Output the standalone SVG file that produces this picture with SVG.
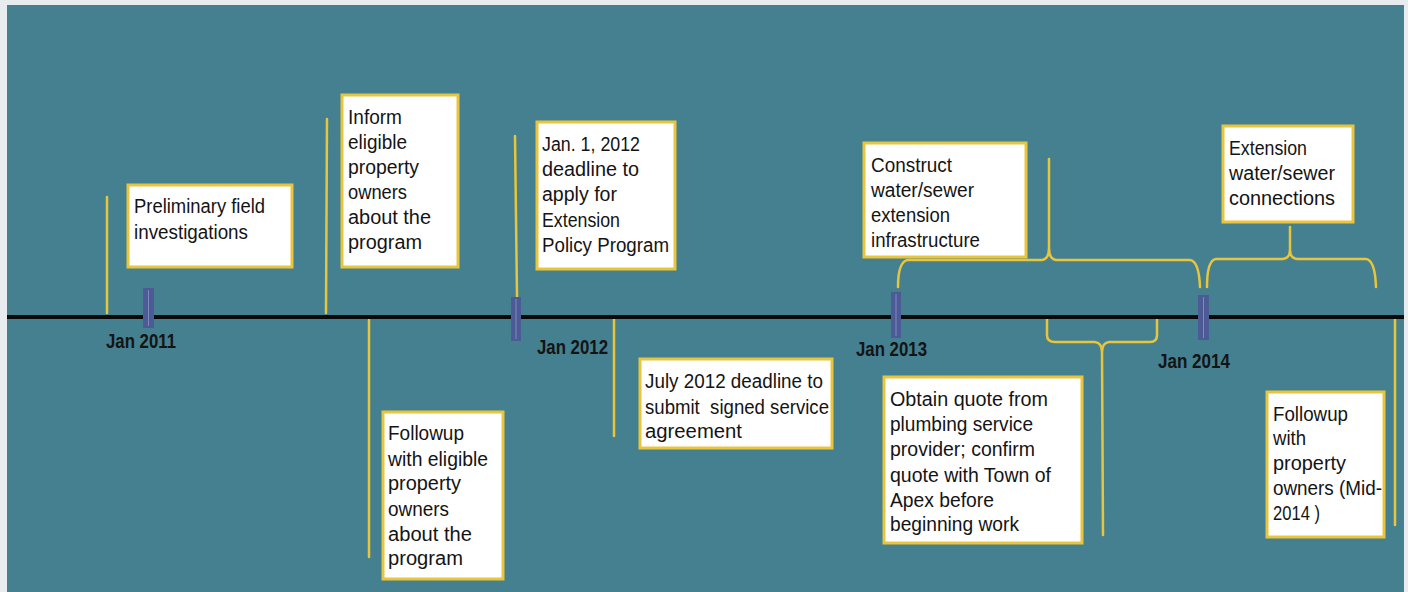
<svg xmlns="http://www.w3.org/2000/svg" width="1408" height="592" viewBox="0 0 1408 592">
<style>
.box{fill:#ffffff;stroke:#e8c53c;stroke-width:3}
.ln{stroke:#e8c53c;stroke-width:2.5;fill:none;stroke-linecap:round;stroke-linejoin:round}
.t{font-family:"Liberation Sans",Arial,sans-serif;font-size:20px;fill:#141414}
.yr{font-family:"Liberation Sans",Arial,sans-serif;font-size:21px;font-weight:bold;fill:#141414}
.mk{fill:#4c5b96}
.mks{stroke:#7b8ab8;stroke-width:1}
</style>
<rect x="0" y="0" width="1408" height="592" fill="#e8ecee"/>
<rect x="7" y="5" width="1397" height="587" fill="#44808f"/>

<g id="connectors">
<line class="ln" x1="107" y1="197" x2="107" y2="313"/>
<line class="ln" x1="327" y1="119" x2="326" y2="313"/>
<line class="ln" x1="369" y1="320" x2="369" y2="557"/>
<line class="ln" x1="515" y1="136" x2="517" y2="297"/>
<line class="ln" x1="614" y1="319" x2="614" y2="436"/>
<line class="ln" x1="1395" y1="318" x2="1395" y2="525"/>
<path class="ln" d="M898,287 Q898,261 908,260 L1042,260 Q1049,259 1049,248 L1049,159 M1049,248 Q1049,259 1056,260 L1190,260 Q1199,261 1200,287"/>
<path class="ln" d="M1207,287 Q1207,260 1216,259 L1283,259 Q1290,258 1290,250 L1290,227 M1290,250 Q1290,258 1297,259 L1366,259 Q1375,260 1376,287"/>
<path class="ln" d="M1047,317 L1047,335 Q1047,342 1055,342 L1095,342 Q1102,343 1102,352 L1103,535 M1102,352 Q1102,343 1109,342 L1150,342 Q1157,342 1157,335 L1157,317"/>
</g>

<g id="timeline">
<line x1="7" y1="317" x2="1404" y2="317" stroke="#0a0a0a" stroke-width="4"/>
</g>

<g id="m2011"><rect class="mk" x="143" y="288" width="11" height="40"/><line class="mks" x1="148.5" y1="290" x2="148.5" y2="326"/></g>
<g id="m2012"><rect class="mk" x="511" y="297" width="10" height="44"/><line class="mks" x1="516" y1="299" x2="516" y2="339"/></g>
<g id="m2013"><rect class="mk" x="891" y="292" width="10" height="46"/><line class="mks" x1="896" y1="294" x2="896" y2="336"/></g>
<g id="m2014"><rect class="mk" x="1198" y="295" width="11" height="45"/><line class="mks" x1="1203.5" y1="297" x2="1203.5" y2="338"/></g>

<g id="labels">
<text class="yr" x="106" y="348" textLength="70" lengthAdjust="spacingAndGlyphs">Jan 2011</text>
<text class="yr" x="537" y="354" textLength="71" lengthAdjust="spacingAndGlyphs">Jan 2012</text>
<text class="yr" x="856" y="356" textLength="71" lengthAdjust="spacingAndGlyphs">Jan 2013</text>
<text class="yr" x="1158" y="368" textLength="72" lengthAdjust="spacingAndGlyphs">Jan 2014</text>
</g>

<g id="n1">
<rect class="box" x="128" y="185" width="164" height="82"/>
<text class="t" x="134" y="213" textLength="131" lengthAdjust="spacingAndGlyphs">Preliminary field</text>
<text class="t" x="134" y="239" textLength="114" lengthAdjust="spacingAndGlyphs">investigations</text>
</g>

<g id="n2">
<rect class="box" x="342" y="95" width="116" height="172"/>
<text class="t" x="348" y="124" textLength="54" lengthAdjust="spacingAndGlyphs">Inform</text>
<text class="t" x="348" y="149" textLength="59" lengthAdjust="spacingAndGlyphs">eligible</text>
<text class="t" x="348" y="174" textLength="71" lengthAdjust="spacingAndGlyphs">property</text>
<text class="t" x="348" y="199" textLength="59" lengthAdjust="spacingAndGlyphs">owners</text>
<text class="t" x="348" y="224" textLength="83" lengthAdjust="spacingAndGlyphs">about the</text>
<text class="t" x="348" y="249" textLength="74" lengthAdjust="spacingAndGlyphs">program</text>
</g>

<g id="n3">
<rect class="box" x="383" y="412" width="120" height="167"/>
<text class="t" x="388" y="440" textLength="76" lengthAdjust="spacingAndGlyphs">Followup</text>
<text class="t" x="388" y="466" textLength="100" lengthAdjust="spacingAndGlyphs">with eligible</text>
<text class="t" x="388" y="490" textLength="73" lengthAdjust="spacingAndGlyphs">property</text>
<text class="t" x="388" y="516" textLength="61" lengthAdjust="spacingAndGlyphs">owners</text>
<text class="t" x="388" y="541" textLength="84" lengthAdjust="spacingAndGlyphs">about the</text>
<text class="t" x="388" y="565" textLength="75" lengthAdjust="spacingAndGlyphs">program</text>
</g>

<g id="n4">
<rect class="box" x="537" y="122" width="138" height="147"/>
<text class="t" x="542" y="151" textLength="98" lengthAdjust="spacingAndGlyphs">Jan. 1, 2012</text>
<text class="t" x="542" y="176" textLength="97" lengthAdjust="spacingAndGlyphs">deadline to</text>
<text class="t" x="542" y="201" textLength="75" lengthAdjust="spacingAndGlyphs">apply for</text>
<text class="t" x="542" y="227" textLength="78" lengthAdjust="spacingAndGlyphs">Extension</text>
<text class="t" x="542" y="252" textLength="127" lengthAdjust="spacingAndGlyphs">Policy Program</text>
</g>

<g id="n5">
<rect class="box" x="640" y="359" width="192" height="89"/>
<text class="t" x="645" y="388" textLength="178" lengthAdjust="spacingAndGlyphs">July 2012 deadline to</text>
<text class="t" x="645" y="414" textLength="184" lengthAdjust="spacingAndGlyphs" style="white-space:pre">submit  signed service</text>
<text class="t" x="645" y="438" textLength="97" lengthAdjust="spacingAndGlyphs">agreement</text>
</g>

<g id="n6">
<rect class="box" x="864" y="143" width="162" height="114"/>
<text class="t" x="871" y="172" textLength="81" lengthAdjust="spacingAndGlyphs">Construct</text>
<text class="t" x="871" y="197" textLength="103" lengthAdjust="spacingAndGlyphs">water/sewer</text>
<text class="t" x="871" y="222" textLength="79" lengthAdjust="spacingAndGlyphs">extension</text>
<text class="t" x="871" y="247" textLength="109" lengthAdjust="spacingAndGlyphs">infrastructure</text>
</g>

<g id="n7">
<rect class="box" x="884" y="377" width="198" height="166"/>
<text class="t" x="890" y="406" textLength="158" lengthAdjust="spacingAndGlyphs">Obtain quote from</text>
<text class="t" x="890" y="431" textLength="143" lengthAdjust="spacingAndGlyphs">plumbing service</text>
<text class="t" x="890" y="456" textLength="145" lengthAdjust="spacingAndGlyphs">provider; confirm</text>
<text class="t" x="890" y="482" textLength="161" lengthAdjust="spacingAndGlyphs">quote with Town of</text>
<text class="t" x="890" y="507" textLength="104" lengthAdjust="spacingAndGlyphs">Apex before</text>
<text class="t" x="890" y="531" textLength="129" lengthAdjust="spacingAndGlyphs">beginning work</text>
</g>

<g id="n8">
<rect class="box" x="1223" y="126" width="130" height="96"/>
<text class="t" x="1229" y="155" textLength="78" lengthAdjust="spacingAndGlyphs">Extension</text>
<text class="t" x="1229" y="180" textLength="106" lengthAdjust="spacingAndGlyphs">water/sewer</text>
<text class="t" x="1229" y="205" textLength="106" lengthAdjust="spacingAndGlyphs">connections</text>
</g>

<g id="n9">
<rect class="box" x="1267" y="392" width="117" height="145"/>
<text class="t" x="1273" y="421" textLength="75" lengthAdjust="spacingAndGlyphs">Followup</text>
<text class="t" x="1273" y="445" textLength="33" lengthAdjust="spacingAndGlyphs">with</text>
<text class="t" x="1273" y="470" textLength="73" lengthAdjust="spacingAndGlyphs">property</text>
<text class="t" x="1273" y="495" textLength="109" lengthAdjust="spacingAndGlyphs">owners (Mid-</text>
<text class="t" x="1273" y="520" textLength="47" lengthAdjust="spacingAndGlyphs">2014 )</text>
</g>
</svg>
